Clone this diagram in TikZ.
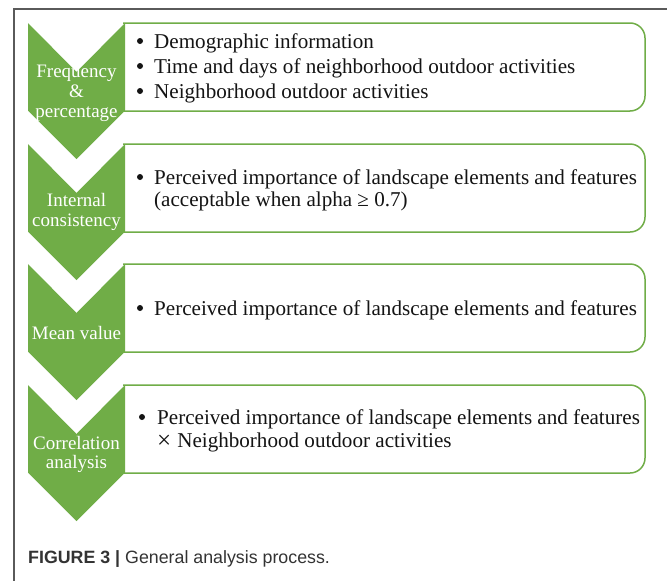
\documentclass[tikz,border=0pt]{standalone}
\usepackage{fontspec}
\setmainfont{Liberation Serif}
\newfontfamily\capfont{Liberation Sans}
\definecolor{chgreen}{HTML}{70AD47}
\definecolor{captxt}{HTML}{333333}
\definecolor{framec}{HTML}{5A5A5A}
\begin{document}
\begin{tikzpicture}[x=1pt,y=-1pt,
  chev/.style={fill=chgreen,draw=none},
  boxstyle/.style={draw=chgreen,line width=1.5pt,fill=white,rounded corners=15pt},
  btxt/.style={anchor=base west,inner sep=0pt,font=\fontsize{21.1}{25}\selectfont,text=black!92},
  bul/.style={circle,fill=black!92,inner sep=0pt,minimum size=6pt},
  ltxt/.style={anchor=base,inner sep=0pt,font=\fontsize{19}{20}\selectfont,text=white},
  captext/.style={anchor=base west,inner sep=0pt,font=\capfont\fontsize{17.8}{20}\selectfont,text=captxt}]
\useasboundingbox (0,0) rectangle (667,581);
\fill[white] (0,0) rectangle (667,581);
\draw[framec,line width=1.2pt] (14,581) -- (14,9) -- (667,9);
% boxes and chevrons
\foreach \y in {23,144,264,385}{
  \draw[boxstyle] (123,\y) -- (645,\y) -- (645,\y+88) -- (123,\y+88);
  \fill[chev] (28,\y) -- (76.5,\y+49) -- (125,\y) -- (125,\y+87.5) -- (76.5,\y+136) -- (28,\y+87.5) -- cycle;
}
% chevron labels
\node[ltxt] (l1a) at (76.5,77) {Frequency};
\node[ltxt] (l1b) at (76.5,97) {\&};
\node[ltxt] (l1c) at (76.5,117) {percentage};
\node[ltxt] (l2a) at (76.5,206) {Internal};
\node[ltxt] (l2b) at (76.5,226) {consistency};
\node[ltxt] (l3a) at (76.5,339) {Mean value};
\node[ltxt] (l4a) at (76.5,449) {Correlation};
\node[ltxt] (l4b) at (76.5,468) {analysis};
% box texts
\node[bul] (b1a) at (140,41) {};
\node[btxt] (t1a) at (154,48) {Demographic information};
\node[bul] (b1b) at (140,66) {};
\node[btxt] (t1b) at (154,73) {Time and days of neighborhood outdoor activities};
\node[bul] (b1c) at (140,91) {};
\node[btxt] (t1c) at (154,98) {Neighborhood outdoor activities};
\node[bul] (b2a) at (140,177) {};
\node[btxt] (t2a) at (154,184) {Perceived importance of landscape elements and features};
\node[btxt] (t2b) at (154,206) {(acceptable when alpha ≥ 0.7)};
\node[bul] (b3a) at (140,308) {};
\node[btxt] (t3a) at (154,315) {Perceived importance of landscape elements and features};
\node[bul] (b4a) at (142,417) {};
\node[btxt] (t4a) at (157,424) {Perceived importance of landscape elements and features};
\node[btxt] (t4b) at (157,447) {\raisebox{-1pt}{\fontsize{25}{25}\selectfont ×}\hspace{6pt}Neighborhood outdoor activities};
% caption
\node[captext] (cap) at (28,563) {\textbf{FIGURE 3 |} General analysis process.};
\end{tikzpicture}
\end{document}
